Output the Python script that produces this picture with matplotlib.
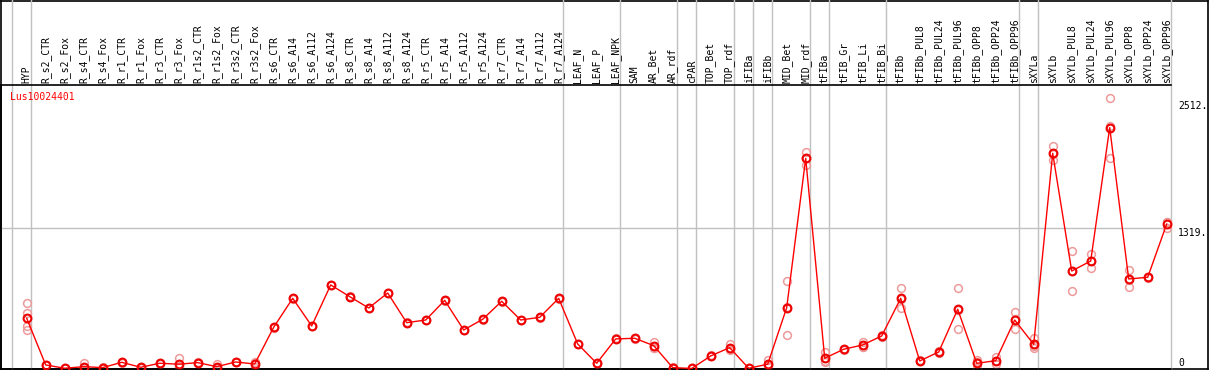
import matplotlib
matplotlib.use("Agg")
import matplotlib.pyplot as plt

categories = ["HYP", "R_s2_CTR", "R_s2_Fox", "R_s4_CTR", "R_s4_Fox", "R_r1_CTR", "R_r1_Fox",
              "R_r3_CTR", "R_r3_Fox", "R_r1s2_CTR", "R_r1s2_Fox", "R_r3s2_CTR", "R_r3s2_Fox",
              "R_s6_CTR", "R_s6_A14", "R_s6_A112", "R_s6_A124", "R_s8_CTR", "R_s8_A14",
              "R_s8_A112", "R_s8_A124", "R_r5_CTR", "R_r5_A14", "R_r5_A112", "R_r5_A124",
              "R_r7_CTR", "R_r7_A14", "R_r7_A112", "R_r7_A124", "LEAF_N", "LEAF_P", "LEAF_NPK",
              "SAM", "AR_Bet", "AR_rdf", "cPAR", "TOP_Bet", "TOP_rdf", "iFIBa", "iFIBb",
              "MID_Bet", "MID_rdf", "tFIBa", "tFIB_Gr", "tFIB_Li", "tFIB_Bi", "tFIBb",
              "tFIBb_PUL8", "tFIBb_PUL24", "tFIBb_PUL96", "tFIBb_OPP8", "tFIBb_OPP24",
              "tFIBb_OPP96", "sXYLa", "sXYLb", "sXYLb_PUL8", "sXYLb_PUL24", "sXYLb_PUL96",
              "sXYLb_OPP8", "sXYLb_OPP24", "sXYLb_OPP96"]

mean_values = [472, 33, 2, 17, 8, 58, 11, 49, 40, 55, 17, 61, 42,
               388, 660, 400, 786, 676, 569, 710, 431, 456, 641, 362, 463,
               632, 456, 481, 660, 230, 49, 278, 284, 215, 8, 0, 118, 196, 2, 40,
               572, 1977, 96, 181, 221, 306, 660, 71, 155, 557, 49, 73, 456,
               227, 2024, 917, 1011, 2266, 842, 858, 1359]

replicates = [[613, 519, 400, 360], [30, 36], [0, 4], [49, 2, 0], [6, 10], [55, 61], [9, 13],
              [45, 53], [96, 12, 12], [52, 58], [42, 5, 4], [58, 64], [60, 17, 49],
              [384, 392], [656, 664], [396, 404], [782, 790], [672, 680], [565, 573],
              [706, 714], [427, 435], [452, 460], [637, 645], [358, 366], [459, 467],
              [628, 636], [452, 460], [477, 485], [656, 664], [226, 234], [46, 52], [274, 282],
              [280, 288], [252, 196, 197], [5, 11], [0, 0], [113, 123], [230, 180, 178],
              [0, 4], [80, 20, 20], [823, 315, 578], [2040, 1915, 1976], [152, 64, 72],
              [176, 186], [252, 206, 205], [300, 312], [755, 572, 653], [66, 76], [150, 160],
              [755, 369, 547], [80, 2, 65], [111, 42, 66], [529, 369, 470],
              [284, 190, 207], [2093, 1962, 2017], [1105, 729, 917], [1077, 942, 1014],
              [2542, 1977, 2279], [927, 764, 835], [853, 863], [1381, 1319, 1377]]

group_ends = [-1, 0, 28, 31, 34, 35, 37, 38, 39, 41, 42, 45, 52, 53, 60]
ytick_values = [0, 1319, 2512]
ytick_labels = ["0", "1319.", "2512."]
gene_name = "Lus10024401"

W, H = 1209, 370
fig = plt.figure(figsize=(W / 100, H / 100), dpi=100)
FONT = "DejaVu Sans Mono"
FS = 7

# outer frame
frame = fig.add_axes([1 / W, 1 / H, (1207.5 - 1) / W, (369.5 - 1) / H])
frame.set_xticks([]); frame.set_yticks([])
for s in frame.spines.values():
    s.set_color("black"); s.set_linewidth(1.2)
frame.patch.set_alpha(0)

left_px, right_px, top_px, bot_px = 1, 1170.7, 85, 369
ax = fig.add_axes([left_px / W, (H - bot_px) / H, (right_px - left_px) / W, (bot_px - top_px) / H])
ax.patch.set_alpha(0)
x = list(range(len(categories)))
ax.set_xlim((left_px - 26.7) / 19.0, (right_px - 26.7) / 19.0)
ax.set_ylim(-5, 2667)

for s in ["left", "bottom", "top"]:
    ax.spines[s].set_color("black"); ax.spines[s].set_linewidth(1.2)
ax.spines["right"].set_visible(False)

# separators
ext = (bot_px - 0.5) / (bot_px - top_px)
for g in group_ends:
    ax.axvline(g + 0.21, ymin=0, ymax=ext, color="#c0c0c0", lw=1, clip_on=False, zorder=0)
ax.axhline(1319, color="#c0c0c0", lw=1, zorder=0)

# replicates
for i, reps in enumerate(replicates):
    ax.plot([i] * len(reps), reps, linestyle="none", marker="o", ms=5.6,
            mfc="none", mec="#ee9a9a", mew=1.1, zorder=2, clip_on=False)
ax.plot(x, mean_values, color="#ff0000", lw=1, zorder=3, clip_on=False)
ax.plot(x, mean_values, linestyle="none", marker="o", ms=5.6, mfc="none",
        mec="#ee0000", mew=1.5, zorder=4, clip_on=False)

ax.xaxis.tick_top()
ax.set_xticks(x)
ax.set_xticklabels(categories, rotation=90, fontsize=FS, family=FONT)
ax.tick_params(axis="x", length=0, pad=1.5)

ax.yaxis.tick_right()
ax.set_yticks(ytick_values)
ax.set_yticklabels(ytick_labels, fontsize=FS, family=FONT)
ax.tick_params(axis="y", length=0, pad=5.3)
for lab, v in zip(ax.get_yticklabels(), ytick_values):
    lab.set_va("bottom" if v == 0 else "top")

fig.text(10 / W, (H - 97) / H, gene_name, color="#ff0000", fontsize=FS, family=FONT,
         ha="left", va="center")

fig.savefig("out.png", dpi=100)
